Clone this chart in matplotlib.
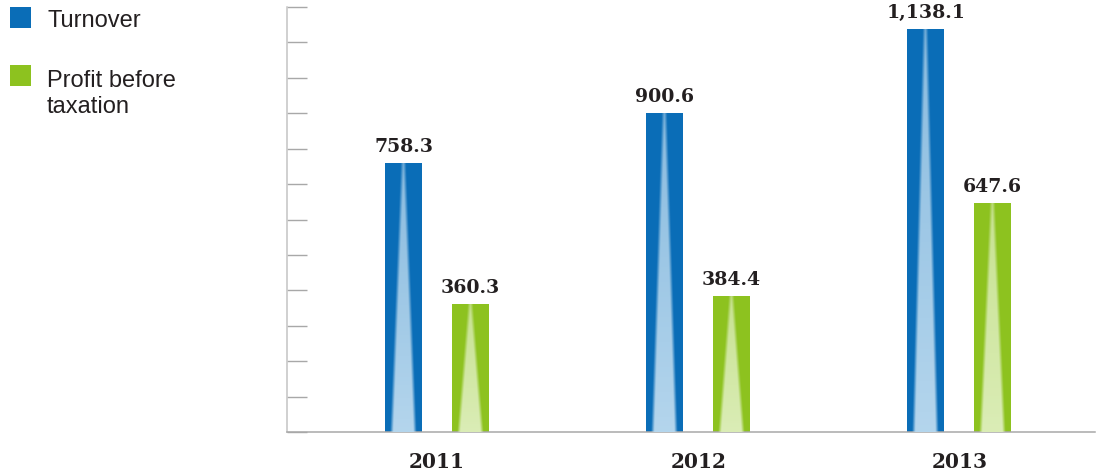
import numpy as np
import matplotlib
matplotlib.use("Agg")
import matplotlib.pyplot as plt
from matplotlib.patches import Rectangle

years = ["2011", "2012", "2013"]
turnover = [758.3, 900.6, 1138.1]
profit = [360.3, 384.4, 647.6]
value_labels_turnover = ["758.3", "900.6", "1,138.1"]
value_labels_profit = ["360.3", "384.4", "647.6"]
legend_labels = ["Turnover", "Profit before\ntaxation"]

BLUE = "#0a6db7"
GREEN = "#8dc21f"
BLUE_LIGHT = np.array([0.71, 0.84, 0.93])
GREEN_LIGHT = np.array([0.86, 0.93, 0.72])
TEXT = "#231f20"

W, H = 1098, 477
fig = plt.figure(figsize=(W / 100, H / 100), dpi=100)
ax = fig.add_axes([287 / W, 44 / H, 808 / W, 425 / H])

x = np.arange(len(years))
bw = 0.142
off = 0.128

bars_t = ax.bar(x - off, turnover, bw, color=BLUE, zorder=2)
bars_p = ax.bar(x + off, profit, bw, color=GREEN, zorder=2)


def shine(bar, light):
    nr, nc = 300, 80
    t = np.linspace(1, 0, nr)[:, None]  # row 0 = top
    u = np.linspace(0, 1, nc)[None, :]
    hw = 0.28 * (1 - t) + 0.03
    d = np.abs(u - 0.485)
    soft = 0.09
    a = np.clip((hw - d) / soft + 0.5, 0, 1)
    a = a * np.clip(0.75 + 0.25 * (1 - t), 0, 1)
    img = np.zeros((nr, nc, 4))
    img[..., :3] = light
    img[..., 3] = a
    x0 = bar.get_x()
    w = bar.get_width()
    h = bar.get_height()
    im = ax.imshow(img, extent=[x0, x0 + w, 0, h], aspect="auto",
                   zorder=3, interpolation="bilinear")
    im.set_clip_path(bar)


for b in bars_t:
    shine(b, BLUE_LIGHT)
for b in bars_p:
    shine(b, GREEN_LIGHT)

for bars, labs in ((bars_t, value_labels_turnover), (bars_p, value_labels_profit)):
    for b, lab in zip(bars, labs):
        ax.annotate(lab, (b.get_x() + b.get_width() / 2, b.get_height()),
                    xytext=(0, 8.6), textcoords="offset points",
                    ha="center", va="baseline", fontsize=13.6,
                    family="DejaVu Serif", fontweight="bold", color=TEXT)

for xi, yr in zip(x, years):
    ax.annotate(yr, (xi, 0), xycoords=("data", "axes fraction"),
                xytext=(0, -25.2), textcoords="offset points",
                ha="center", va="baseline", fontsize=14.5,
                family="DejaVu Serif", fontweight="bold", color=TEXT,
                annotation_clip=False)

ax.set_xlim(-0.575, 2.52)
ax.set_ylim(0, 1200)
ax.set_yticks(np.arange(0, 1201, 100))
ax.set_yticklabels([])
ax.set_xticks([])
ax.tick_params(axis="y", direction="in", length=14.4, width=1.0, color="#a8a8a8")
for s in ("top", "right"):
    ax.spines[s].set_visible(False)
for s in ("left", "bottom"):
    ax.spines[s].set_color("#a8a8a8")
    ax.spines[s].set_linewidth(1.1)
ax.spines["left"].set_color("#c4c4c4")

# legend
sq = [(10, 8), (10, 66)]
cols = [BLUE, GREEN]
txt_y = [27, 87]
for (lx, ly), c, lab, ty in zip(sq, cols, legend_labels, txt_y):
    fig.add_artist(Rectangle((lx / W, 1 - (ly + 21) / H), 21 / W, 21 / H,
                             transform=fig.transFigure, color=c, lw=0))
    for i, line in enumerate(lab.split("\n")):
        fig.text(47 / W, 1 - (ty + 26 * i) / H, line, ha="left", va="baseline",
                 fontsize=17, family="Liberation Sans", color=TEXT)

fig.savefig("out.png", dpi=100)
